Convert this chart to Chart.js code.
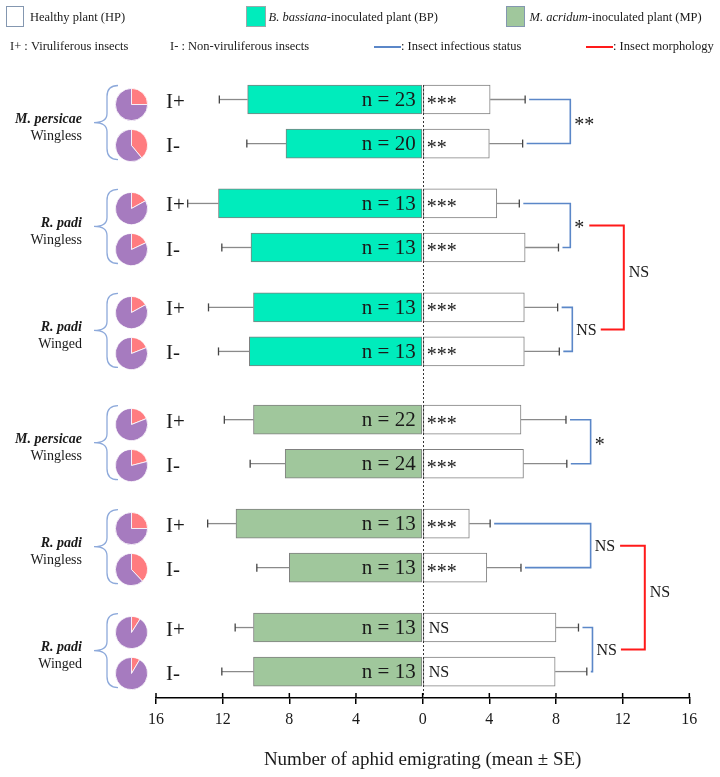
<!DOCTYPE html>
<html>
<head>
<meta charset="utf-8">
<script src="https://cdn.jsdelivr.net/npm/chart.js@4.4.1/dist/chart.umd.min.js"></script>
<style>
  html, body { margin: 0; padding: 0; background: #ffffff; }
  #wrap { position: relative; width: 720px; height: 777px; overflow: hidden; }
  #main { position: absolute; left: 0; top: 0; }
  .pie { position: absolute; }
</style>
</head>
<body>
<div id="wrap"><canvas id="main" width="720" height="777"></canvas></div>
<script>
// ---------------- DATA ----------------
const species     = ['M. persicae', 'R. padi', 'R. padi', 'M. persicae', 'R. padi', 'R. padi'];
const morphs      = ['Wingless', 'Wingless', 'Winged', 'Wingless', 'Wingless', 'Winged'];
const plantTypes  = ['BP', 'BP', 'BP', 'MP', 'MP', 'MP'];
const statuses    = ['I+', 'I-'];

const inoculatedMean = [10.5, 8.2, 12.25, 10.3, 10.15, 10.4, 10.15, 8.25, 11.2, 8.0, 10.15, 10.15];
const inoculatedSE   = [1.7, 2.35, 1.85, 1.75, 2.7, 1.85, 1.75, 2.1, 1.7, 1.95, 1.1, 1.9];
const healthyMean    = [4.05, 4.0, 4.45, 6.15, 6.1, 6.1, 5.9, 6.05, 2.8, 3.85, 8.0, 7.95];
const healthySE      = [2.1, 2.0, 1.35, 2.0, 2.0, 2.1, 2.7, 2.6, 1.25, 2.05, 1.35, 1.9];
const sampleSize     = [23, 20, 13, 13, 13, 13, 22, 24, 13, 13, 13, 13];
const healthySig     = ['***', '**', '***', '***', '***', '***', '***', '***', '***', '***', 'NS', 'NS'];
const pinkShare      = [25, 39, 17, 18, 17, 19, 19, 21, 25, 38, 9, 8.5];   // % of pie in pink
const statusSig      = ['**', '*', 'NS', '*', 'NS', 'NS'];                  // I+ vs I- within a group
const morphPairs     = [[1, 2], [4, 5]];                                    // wingless vs winged R. padi
const morphSig       = ['NS', 'NS'];
const tickValues     = [-16, -12, -8, -4, 0, 4, 8, 12, 16];

const categories = [];
species.forEach((s, g) => statuses.forEach(st => categories.push(s + ' ' + morphs[g] + ' ' + plantTypes[g] + ' ' + st)));

// ---------------- LAYOUT / STYLE ----------------
const SERIF = '"Liberation Serif", "Times New Roman", serif';
const COLORS = { BP: '#00ecbc', MP: '#a0c79c', HP: '#ffffff', border: '#808080',
                 blue: '#5b87c8', red: '#ff1a1a', brace: '#8eaadb', pink: '#ff7c80', purple: '#a67bbf' };
const BAR_T = 29;
const PAIR_STEP = 2.36, SECTION_GAP = 0.19;
const statusBracketX = [8.86, 8.86, 8.98, 10.08, 10.08, 10.19];
const morphBracketX  = [12.07, 13.33];

function rowPos(i) {
  const k = Math.floor(i / 2), j = i % 2, s = k >= 3 ? 1 : 0;
  return k * PAIR_STEP + s * SECTION_GAP + j;
}
const lastPos = rowPos(categories.length - 1);

const rowColors = categories.map((c, i) => COLORS[plantTypes[Math.floor(i / 2)]]);

function drawMixed(ctx, parts, x, y, size) {
  let cx = x;
  parts.forEach(([txt, style]) => {
    ctx.font = (style || '') + ' ' + size + 'px ' + SERIF;
    ctx.fillText(txt, cx, y);
    cx += ctx.measureText(txt).width;
  });
  return cx;
}

const annotations = {
  id: 'annotations',
  afterDatasetsDraw(chart) {
    const { ctx, scales: { x, y } } = chart;
    const x0 = x.getPixelForValue(0);
    const rowY = i => y.getPixelForValue(rowPos(i));
    ctx.save();
    // zero dashed line
    ctx.setLineDash([2, 2]);
    ctx.strokeStyle = '#333';
    ctx.lineWidth = 1;
    ctx.beginPath();
    ctx.moveTo(Math.round(x0) + 0.5, rowY(0) - BAR_T / 2);
    ctx.lineTo(Math.round(x0) + 0.5, chart.chartArea.bottom);
    ctx.stroke();
    ctx.setLineDash([]);

    // error bars
    const errBar = (from, to, yy) => {
      ctx.strokeStyle = '#8a8a8a'; ctx.lineWidth = 1.3;
      ctx.beginPath(); ctx.moveTo(from, yy); ctx.lineTo(to, yy); ctx.stroke();
      ctx.strokeStyle = '#444'; ctx.lineWidth = 1.3;
      ctx.beginPath(); ctx.moveTo(to, yy - 4); ctx.lineTo(to, yy + 4); ctx.stroke();
    };
    categories.forEach((c, i) => {
      const yy = rowY(i);
      errBar(x.getPixelForValue(-inoculatedMean[i]), x.getPixelForValue(-(inoculatedMean[i] + inoculatedSE[i])), yy);
      errBar(x.getPixelForValue(healthyMean[i]), x.getPixelForValue(healthyMean[i] + healthySE[i]), yy);
    });

    // texts in bars
    ctx.fillStyle = '#1a1a1a';
    categories.forEach((c, i) => {
      const yy = rowY(i);
      ctx.font = '21px ' + SERIF;
      ctx.textAlign = 'right'; ctx.textBaseline = 'middle';
      ctx.fillText('n = ' + sampleSize[i], x0 - 7, yy + 1);
      ctx.textAlign = 'left';
      if (healthySig[i] === 'NS') {
        ctx.font = '16px ' + SERIF; ctx.textBaseline = 'middle';
        ctx.fillText('NS', x0 + 6, yy + 1);
      } else {
        ctx.font = '20px ' + SERIF; ctx.textBaseline = 'alphabetic';
        ctx.fillText(healthySig[i], x0 + 4, yy + 10);
      }
    });

    // status brackets (blue)
    const labelRight = [];
    statusSig.forEach((sig, k) => {
      const r0 = 2 * k, r1 = 2 * k + 1;
      const y0 = rowY(r0), y1 = rowY(r1);
      const s0 = x.getPixelForValue(healthyMean[r0] + healthySE[r0]) + 4;
      const s1 = x.getPixelForValue(healthyMean[r1] + healthySE[r1]) + 4;
      const vx = x.getPixelForValue(statusBracketX[k]);
      ctx.strokeStyle = COLORS.blue; ctx.lineWidth = 1.6;
      ctx.beginPath(); ctx.moveTo(s0, y0); ctx.lineTo(vx, y0); ctx.lineTo(vx, y1); ctx.lineTo(s1, y1); ctx.stroke();
      const my = (y0 + y1) / 2;
      ctx.fillStyle = '#1a1a1a'; ctx.textAlign = 'left';
      let w;
      if (sig === 'NS') {
        ctx.font = '16px ' + SERIF; ctx.textBaseline = 'middle';
        ctx.fillText(sig, vx + 4, my + 1);
        w = ctx.measureText(sig).width;
      } else {
        ctx.font = '20px ' + SERIF; ctx.textBaseline = 'alphabetic';
        ctx.fillText(sig, vx + 4, my + 9);
        w = ctx.measureText(sig).width;
      }
      labelRight[k] = { x: vx + 4 + w, y: my };
    });

    // morphology brackets (red)
    morphPairs.forEach(([a, b], m) => {
      const A = labelRight[a], B = labelRight[b];
      const vx = x.getPixelForValue(morphBracketX[m]);
      ctx.strokeStyle = COLORS.red; ctx.lineWidth = 2;
      ctx.beginPath(); ctx.moveTo(A.x + 5, A.y); ctx.lineTo(vx, A.y); ctx.lineTo(vx, B.y); ctx.lineTo(B.x + 4, B.y); ctx.stroke();
      ctx.fillStyle = '#1a1a1a';
      ctx.font = '16px ' + SERIF; ctx.textBaseline = 'middle'; ctx.textAlign = 'left';
      ctx.fillText(morphSig[m], vx + 5, (A.y + B.y) / 2 - 5);
    });

    // left side: status labels, group labels, braces
    categories.forEach((c, i) => {
      ctx.font = '21px ' + SERIF; ctx.textAlign = 'left'; ctx.textBaseline = 'middle';
      ctx.fillStyle = '#1a1a1a';
      ctx.fillText(statuses[i % 2], 166, rowY(i) + 2.5);
    });
    species.forEach((s, g) => {
      const y0 = rowY(2 * g), y1 = rowY(2 * g + 1);
      const mid = (y0 + y1) / 2;
      ctx.fillStyle = '#1a1a1a'; ctx.textAlign = 'right'; ctx.textBaseline = 'middle';
      ctx.font = 'italic bold 14px ' + SERIF;
      ctx.fillText(s, 82, mid - 2);
      ctx.font = '14px ' + SERIF;
      ctx.fillText(morphs[g], 82, mid + 14.5);
      // brace
      const top = y0 - 14, bot = y1 + 16, bm = (top + bot) / 2;
      ctx.strokeStyle = COLORS.brace; ctx.lineWidth = 1.3;
      ctx.beginPath();
      ctx.moveTo(118, top);
      ctx.quadraticCurveTo(107, top, 107, top + 11);
      ctx.lineTo(107, bm - 9);
      ctx.quadraticCurveTo(107, bm, 94, bm);
      ctx.quadraticCurveTo(107, bm, 107, bm + 9);
      ctx.lineTo(107, bot - 11);
      ctx.quadraticCurveTo(107, bot, 118, bot);
      ctx.stroke();
    });

    // upward half of the axis ticks
    const yb = chart.chartArea.bottom;
    ctx.strokeStyle = '#000'; ctx.lineWidth = 1.5;
    tickValues.forEach(v => {
      const px = x.getPixelForValue(v);
      ctx.beginPath(); ctx.moveTo(px, yb - 5); ctx.lineTo(px, yb); ctx.stroke();
    });

    // legend
    ctx.textAlign = 'left'; ctx.textBaseline = 'middle'; ctx.fillStyle = '#1a1a1a';
    const LS = 12.5;
    ctx.fillStyle = '#ffffff'; ctx.fillRect(6, 6, 17, 20);
    ctx.strokeStyle = '#8497b0'; ctx.lineWidth = 1; ctx.strokeRect(6.5, 6.5, 17, 20);
    ctx.fillStyle = COLORS.BP; ctx.fillRect(246, 6, 19, 20);
    ctx.strokeStyle = '#9aa'; ctx.strokeRect(246.5, 6.5, 19, 20);
    ctx.fillStyle = COLORS.MP; ctx.fillRect(506, 6, 18, 20);
    ctx.strokeStyle = '#8497b0'; ctx.strokeRect(506.5, 6.5, 18, 20);
    ctx.fillStyle = '#1a1a1a';
    drawMixed(ctx, [['Healthy plant (HP)', '']], 30, 18, LS);
    drawMixed(ctx, [['B. bassiana', 'italic'], ['-inoculated plant (BP)', '']], 268.5, 18, LS);
    drawMixed(ctx, [['M. acridum', 'italic'], ['-inoculated plant (MP)', '']], 529.5, 18, LS);
    drawMixed(ctx, [['I+ : Viruliferous insects', '']], 10, 47, LS);
    drawMixed(ctx, [['I- : Non-viruliferous insects', '']], 170, 47, LS);
    ctx.strokeStyle = COLORS.blue; ctx.lineWidth = 2;
    ctx.beginPath(); ctx.moveTo(374, 47); ctx.lineTo(401, 47); ctx.stroke();
    drawMixed(ctx, [[': Insect infectious status', '']], 401, 47, LS);
    ctx.strokeStyle = COLORS.red; ctx.lineWidth = 2;
    ctx.beginPath(); ctx.moveTo(586, 47); ctx.lineTo(613, 47); ctx.stroke();
    drawMixed(ctx, [[': Insect morphology', '']], 613, 47, LS);
    ctx.restore();
  }
};

const mainChart = new Chart(document.getElementById('main'), {
  type: 'bar',
  data: {
    labels: categories,
    datasets: [
      {
        label: 'Inoculated plant',
        data: inoculatedMean.map((v, i) => ({ x: -v, y: rowPos(i) })),
        backgroundColor: rowColors,
        borderColor: COLORS.border,
        borderWidth: 1,
        borderSkipped: false,
        barThickness: BAR_T,
        grouped: false
      },
      {
        label: 'Healthy plant (HP)',
        data: healthyMean.map((v, i) => ({ x: v, y: rowPos(i) })),
        backgroundColor: COLORS.HP,
        borderColor: COLORS.border,
        borderWidth: 1,
        borderSkipped: false,
        barThickness: BAR_T,
        grouped: false
      }
    ]
  },
  options: {
    indexAxis: 'y',
    responsive: false,
    animation: false,
    devicePixelRatio: 1,
    layout: { padding: { left: 156, right: 30.7, top: 79.7, bottom: 0 } },
    plugins: { legend: { display: false }, tooltip: { enabled: false } },
    scales: {
      y: {
        type: 'linear',
        display: false,
        reverse: true,
        offset: false,
        min: -0.45,
        max: lastPos + 0.6
      },
      x: {
        type: 'linear',
        min: -16,
        max: 16,
        afterBuildTicks(scale) { scale.ticks = tickValues.map(v => ({ value: v })); },
        afterFit(scale) { scale.height = 79; },
        border: { display: true, color: '#000', width: 1.5 },
        grid: { drawOnChartArea: false, color: '#000', lineWidth: 1.5, tickLength: 6 },
        ticks: {
          color: '#1a1a1a',
          font: { family: SERIF, size: 16 },
          padding: 6,
          callback: v => String(Math.abs(v))
        },
        title: {
          display: true,
          text: 'Number of aphid emigrating (mean ± SE)',
          color: '#1a1a1a',
          font: { family: SERIF, size: 19 },
          padding: { top: 0, bottom: 5.6 }
        }
      }
    }
  },
  plugins: [annotations]
});

// pies, positioned on the main chart's rows
const wrap = document.getElementById('wrap');
const PIE_D = 33;
categories.forEach((c, i) => {
  const cv = document.createElement('canvas');
  cv.className = 'pie';
  cv.width = PIE_D; cv.height = PIE_D;
  const cy = mainChart.scales.y.getPixelForValue(rowPos(i)) + (i % 2 === 0 ? 5 : 2);
  cv.style.left = (131.7 - PIE_D / 2) + 'px';
  cv.style.top = (cy - PIE_D / 2) + 'px';
  wrap.appendChild(cv);
  new Chart(cv, {
    type: 'pie',
    data: {
      labels: ['pink', 'purple'],
      datasets: [{
        data: [pinkShare[i], 100 - pinkShare[i]],
        backgroundColor: [COLORS.pink, COLORS.purple],
        borderColor: '#ffffff',
        borderWidth: 0.8
      }]
    },
    options: {
      responsive: false, animation: false, devicePixelRatio: 1,
      layout: { padding: 0 },
      plugins: { legend: { display: false }, tooltip: { enabled: false } }
    }
  });
});
</script>
</body>
</html>
